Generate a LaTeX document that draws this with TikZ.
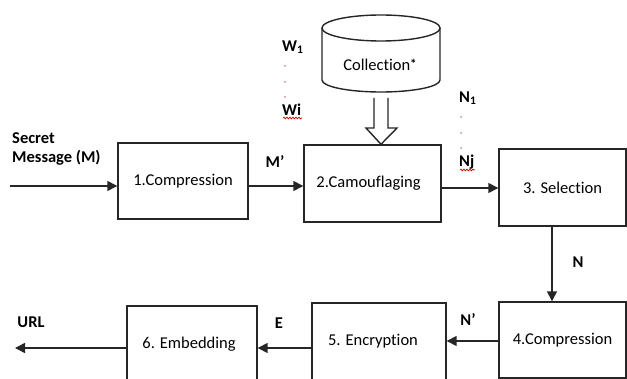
\documentclass[tikz,border=0pt]{standalone}
\usepackage{fontspec}
\setmainfont{Carlito}[Ligatures=NoCommon]
\usetikzlibrary{arrows.meta,decorations.pathmorphing}
\begin{document}
\begin{tikzpicture}[x=1pt,y=-1pt,
  box/.style={draw=black!85,line width=1.4pt,inner sep=0pt,font=\fontsize{16.5}{19}\selectfont},
  arr/.style={draw=black!85,line width=1.5pt,-{Triangle[length=10pt,width=10pt]}},
  lbl/.style={font=\fontsize{16.5}{19}\selectfont\bfseries,inner sep=0pt},
  dotc/.style={fill=black!40!red!45,draw=none},
  squig/.style={draw=red!80!black,line width=0.7pt,decorate,decoration={snake,amplitude=0.9pt,segment length=3pt}}]
\useasboundingbox (0,0) rectangle (627,379);

% boxes
\node[box,minimum width=130pt,minimum height=76pt] (b1) at (183,181) {1.Compression};
\node[box,minimum width=137pt,minimum height=77pt] (b2) at (372.5,183.5) {\hspace*{-8pt}2.Camouflaging};
\node[box,minimum width=127pt,minimum height=77pt] (b3) at (562.5,187.5) {3. Selection};
\node[box,minimum width=127pt,minimum height=76pt] (b4) at (562.5,340) {4.Compression};
\node[box,minimum width=134pt,minimum height=77pt] (b5) at (379,341.5) {\hspace*{-12pt}5. Encryption};
\node[box,minimum width=130pt,minimum height=77pt] (b6) at (192,344.5) {\hspace*{-6pt}6. Embedding};

% cylinder (collection)
\draw[draw=black!85,line width=1.4pt] (322,28) -- (322,80) arc[start angle=180,end angle=360,x radius=59pt,y radius=12pt] -- (440,28);
\draw[draw=black!85,line width=1.4pt] (381,28) ellipse[x radius=59pt,y radius=13pt];
\node[font=\fontsize{16.5}{19}\selectfont,inner sep=0pt] (coll) at (380,65) {Collection\raisebox{0.3ex}{\fontsize{13}{13}\selectfont\bfseries *}};

% hollow arrow from collection to camouflaging
\coordinate (hs) at (381,98);
\draw[draw=black!85,line width=1.4pt,fill=white,line join=miter]
  ([xshift=-7pt]hs) -- ([xshift=-7pt]hs |- 0,128) -- ([xshift=-15pt]hs |- 0,128) -- (b2.north -| hs)
  -- ([xshift=16pt]hs |- 0,128) -- ([xshift=7pt]hs |- 0,128) -- ([xshift=7pt]hs);

% input / output ends
\coordinate (in) at (10,186);
\coordinate (out) at (15,348);

% connectors
\draw[arr] (in) -- (b1.west |- in);
\draw[arr] (b1.east |- 0,186) -- (b2.west |- 0,186);
\draw[arr] (b2.east |- 0,188) -- (b3.west |- 0,188);
\draw[arr] (b3.south -| 552,0) -- (b4.north -| 552,0);
\draw[arr] (b4.west |- 0,341) -- (b5.east |- 0,341);
\draw[arr] (b5.west |- 0,348) -- (b6.east |- 0,348);
\draw[arr] (b6.west |- out) -- (out);

% labels
\node[lbl,anchor=west,align=left] (secret) at (12,149) {Secret\\Message (M)};
\node[lbl] (mp) at (275,162) {M’};
\node[lbl] (n) at (578,262) {N};
\node[lbl] (np) at (468,319) {N’};
\node[lbl] (e) at (279,323) {E};
\node[lbl] (url) at (31,322) {URL};

\node[lbl,anchor=west] (w1) at (282,47) {W\textsubscript{1}};
\fill[dotc] (285,66) circle (1pt) (285,82) circle (1pt) (285,97) circle (1pt);
\node[lbl,anchor=west] (wi) at (282,110) {Wi};
\draw[squig] (283,118) -- (302,118);

\node[lbl,anchor=west] (n1) at (459,98) {N\textsubscript{1}};
\fill[dotc] (461,117) circle (1pt) (461,133) circle (1pt) (461,148) circle (1pt);
\node[lbl,anchor=west] (nj) at (459,162) {Nj};
\draw[squig] (460,170) -- (475,170);
\end{tikzpicture}
\end{document}
